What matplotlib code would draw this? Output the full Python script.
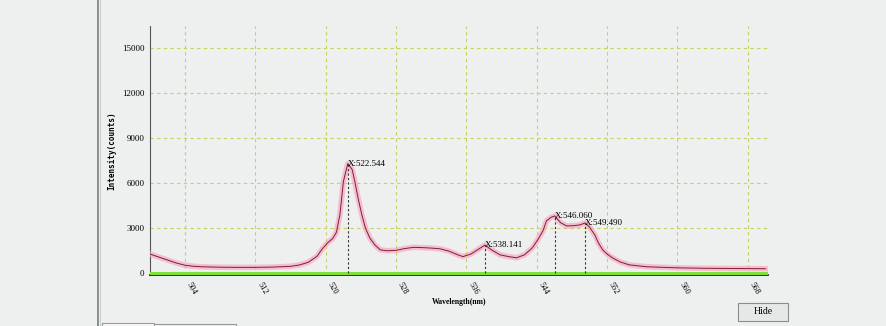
import numpy as np
import matplotlib.pyplot as plt
from matplotlib.patches import Rectangle, FancyBboxPatch

# spectrum samples (wavelength nm, intensity counts)
wavelength = [500.0, 501.0, 502.0, 503.0, 504.0, 505.0, 506.0, 508.0, 510.0, 512.0,
              514.0, 516.0, 517.0, 518.0, 519.0, 519.6, 520.2, 520.8, 521.2, 521.6,
              522.0, 522.5, 523.0, 523.3, 523.7, 524.1, 524.5, 525.0, 525.6, 526.2,
              527.0, 528.0, 529.0, 530.0, 531.0, 532.0, 533.0, 534.0, 535.0, 535.6,
              536.5, 537.3, 538.1, 538.8, 539.8, 540.8, 541.7, 542.6, 543.5, 544.1,
              544.7, 545.1, 545.6, 546.05, 546.7, 547.4, 548.2, 548.9, 549.5, 550.0,
              550.6, 551.0, 551.5, 552.0, 552.6, 553.5, 554.5, 556.5, 558.0, 560.0,
              563.0, 566.0, 570.0]
intensity = [1250, 1050, 850, 650, 500, 430, 400, 370, 360, 360,
             380, 430, 520, 700, 1100, 1600, 2000, 2300, 2700, 3870,
             6100, 7300, 6900, 6100, 4900, 3870, 3000, 2330, 1850, 1530,
             1470, 1500, 1620, 1700, 1680, 1650, 1600, 1450, 1200, 1080,
             1250, 1550, 1850, 1550, 1200, 1080, 1000, 1200, 1670, 2200,
             2800, 3470, 3700, 3800, 3350, 3130, 3150, 3200, 3330, 3050,
             2530, 2000, 1530, 1250, 1000, 720, 530, 400, 370, 330,
             300, 285, 270]

peak_pos = [522.544, 538.141, 546.060, 549.490]
peak_val = [7300, 1850, 3800, 3300]
peak_text = ['X:522.544', 'X:538.141', 'X:546.060', 'X:549.490']

xticks = [504, 512, 520, 528, 536, 544, 552, 560, 568]
yticks = [0, 3000, 6000, 9000, 12000, 15000]

bg = '#eef0ef'
grid_c = '#c6d25a'

fig = plt.figure(figsize=(8.87, 3.26), dpi=100, facecolor=bg)
ax = fig.add_axes([150 / 887, 51 / 326, 618 / 887, 249 / 326], facecolor=bg)

ax.set_xlim(500.0, 570.3)
ax.set_ylim(-150, 16500)
ax.set_xticks(xticks)
ax.set_yticks(yticks)
ax.set_xticklabels([str(v) for v in xticks], rotation=-60, ha='left',
                   fontsize=6, family='Liberation Serif')
ax.set_yticklabels([str(v) for v in yticks], fontsize=6.5, family='Liberation Serif')
ax.tick_params(length=0, pad=4)
ax.grid(True, color=grid_c, linestyle=(0, (3, 3)), linewidth=0.8)
ax.set_axisbelow(True)

for side in ['top', 'right']:
    ax.spines[side].set_visible(False)
ax.spines['left'].set_color('#555555')
ax.spines['bottom'].set_color('#111111')
ax.spines['bottom'].set_linewidth(1.2)

# green zero line
ax.axhline(0, color='#7fe03a', linewidth=2.2, zorder=3)

# pink halo with dark core
ax.plot(wavelength, intensity, color='#f7a8c4', linewidth=4.0, alpha=0.7,
        solid_joinstyle='round', zorder=4)
ax.plot(wavelength, intensity, color='#7a2030', linewidth=0.7,
        solid_joinstyle='round', zorder=5)

for px, pv, txt in zip(peak_pos, peak_val, peak_text):
    ax.plot([px, px], [0, pv], color='#333333', linestyle=(0, (2, 2)),
            linewidth=0.8, zorder=6)
    ax.text(px, pv, txt, fontsize=6.5, family='Liberation Serif',
            va='center', ha='left', zorder=7)

ax.set_xlabel('Wavelength(nm)', fontsize=5.5, family='Liberation Serif',
              fontweight='bold', labelpad=2)
ax.set_ylabel('Intensity(counts)', fontsize=5.5, family='DejaVu Sans Mono',
              fontweight='bold', labelpad=4)

# window frame pieces around the plot
fig.add_artist(Rectangle((97 / 887, 0), 2 / 887, 1, transform=fig.transFigure,
                         facecolor='#8a8f8f', edgecolor='none'))
fig.add_artist(Rectangle((100 / 887, 0), 1 / 887, 1, transform=fig.transFigure,
                         facecolor='#c8cccc', edgecolor='none'))
fig.add_artist(Rectangle((102 / 887, -0.01), 52 / 887, 6 / 326, transform=fig.transFigure,
                         facecolor='#f8f8f8', edgecolor='#9a9a9a', linewidth=0.8))
fig.add_artist(Rectangle((154 / 887, -0.01), 82 / 887, 5 / 326, transform=fig.transFigure,
                         facecolor=bg, edgecolor='#9a9a9a', linewidth=0.8))
fig.add_artist(FancyBboxPatch((738 / 887, 5 / 326), 50 / 887, 18 / 326,
                              boxstyle='square,pad=0', transform=fig.transFigure,
                              facecolor='#e6e8e8', edgecolor='#8c8c8c', linewidth=0.8))
fig.text(763 / 887, 14 / 326, 'Hide', fontsize=7, family='Liberation Serif',
         ha='center', va='center')

fig.savefig('out.png', dpi=100, facecolor=bg)
